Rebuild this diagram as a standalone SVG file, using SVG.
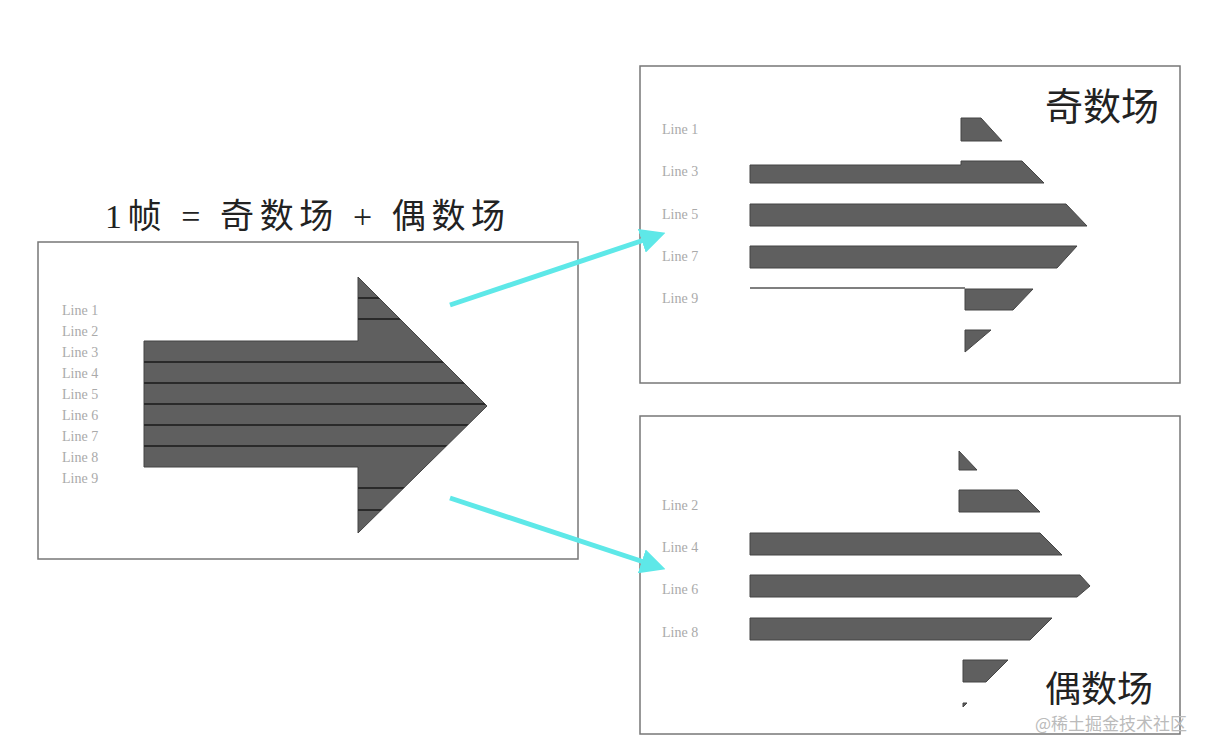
<svg xmlns="http://www.w3.org/2000/svg" width="1216" height="754" viewBox="0 0 1216 754">
<style>
.panel{fill:#fff;stroke:#777;stroke-width:1.5}
.bar{fill:#5f5f5f;stroke:#444;stroke-width:1}
.lbl{font-family:"Liberation Serif",serif;font-size:14px;fill:#aaa}
.cn{font-family:"Liberation Serif","Noto Sans CJK SC",serif;fill:#222}
.cy{stroke:#5ee8e8;stroke-width:5;fill:none}
</style>
<defs>
<marker id="ah" markerWidth="5" markerHeight="5" refX="3" refY="2.5" orient="auto"><path d="M0,0 L5,2.5 L0,5 z" fill="#5ee8e8"/></marker>
<clipPath id="ac"><path d="M144,341 H358 V277 L487,406 L358,533 V467 H144 Z"/></clipPath>
</defs>
<rect width="1216" height="754" fill="#fff"/>
<text class="cn" x="105" y="228" font-size="34" textLength="400" lengthAdjust="spacing">1帧 = 奇数场 + 偶数场</text>
<g id="frame">
<rect class="panel" x="38" y="242" width="540" height="317"/>
<g class="lbl">
<text x="62" y="315">Line 1</text><text x="62" y="336">Line 2</text><text x="62" y="357">Line 3</text>
<text x="62" y="378">Line 4</text><text x="62" y="399">Line 5</text><text x="62" y="420">Line 6</text>
<text x="62" y="441">Line 7</text><text x="62" y="462">Line 8</text><text x="62" y="483">Line 9</text>
</g>
<path class="bar" d="M144,341 H358 V277 L487,406 L358,533 V467 H144 Z"/>
<g clip-path="url(#ac)" stroke="#2a2a2a" stroke-width="2">
<path d="M140,298H490M140,319H490M140,362H490M140,383H490M140,404H490M140,425H490M140,446H490M140,488H490M140,510H490"/>
</g>
</g>
<g id="odd">
<rect class="panel" x="640" y="66" width="540" height="317"/>
<text class="cn" x="1045" y="120" font-size="38">奇数场</text>
<g class="lbl"><text x="662" y="134">Line 1</text><text x="662" y="176">Line 3</text><text x="662" y="219">Line 5</text><text x="662" y="261">Line 7</text><text x="662" y="303">Line 9</text></g>
<path class="bar" d="M961,118H981L1002,141H961Z"/>
<path class="bar" d="M750,165H961V161H1022L1044,183H750Z"/>
<path class="bar" d="M750,204H1066L1087,226H750Z"/>
<path class="bar" d="M750,246H1077L1057,268H750Z"/>
<path d="M750,288H965" stroke="#555" stroke-width="1.5"/>
<path class="bar" d="M965,289H1033L1013,310H965Z"/>
<path class="bar" d="M965,330H991L965,352Z"/>
</g>
<g id="even">
<rect class="panel" x="640" y="416" width="540" height="318"/>
<g class="lbl"><text x="662" y="510">Line 2</text><text x="662" y="552">Line 4</text><text x="662" y="594">Line 6</text><text x="662" y="637">Line 8</text></g>
<path class="bar" d="M959,451L977,470H959Z"/>
<path class="bar" d="M959,490H1018L1040,512H959Z"/>
<path class="bar" d="M750,533H1040L1062,555H750Z"/>
<path class="bar" d="M750,575H1080L1090,586L1077,597H750Z"/>
<path class="bar" d="M750,618H1052L1030,640H750Z"/>
<path class="bar" d="M963,660H1008L986,682H963Z"/>
<path class="bar" d="M963,703H967L963,707Z"/>
<text class="cn" x="1045" y="702" font-size="36">偶数场</text>
</g>
<g id="connectors">
<path class="cy" d="M450,305L656,236" marker-end="url(#ah)"/>
<path class="cy" d="M450,498L656,566" marker-end="url(#ah)"/>
</g>
<text x="1035" y="730" font-family="'Noto Sans CJK SC',sans-serif" font-size="17" fill="#bbb">@稀土掘金技术社区</text>
</svg>
